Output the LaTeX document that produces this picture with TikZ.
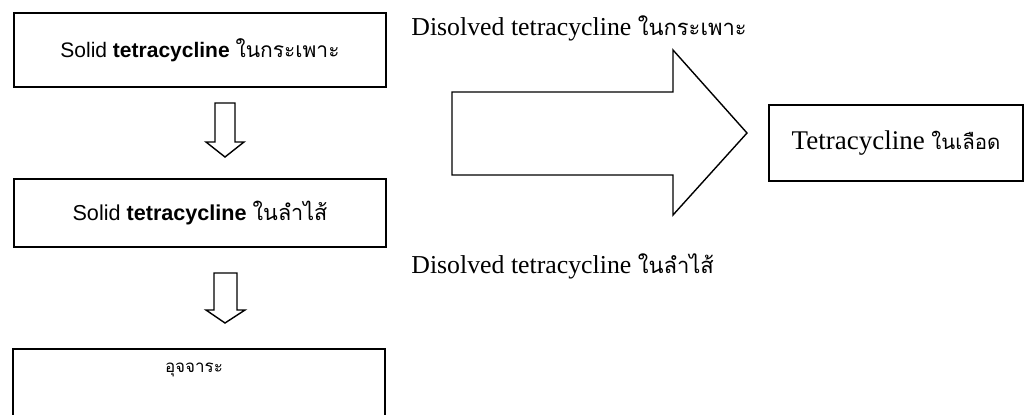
\documentclass[tikz,border=0pt]{standalone}
\usepackage{fontspec}
\setmainfont{Liberation Serif}
\setsansfont{Liberation Sans}
\newfontfamily\thaifont[Script=Thai]{Loma}
\tikzset{
  stagebox/.style = {draw, line width = 0.8pt, minimum width = 186pt, minimum height = 37pt, inner sep = 0pt},
  blockarrow/.style = {draw, line width = 0.7pt, line join = miter, fill = white},
  flowlabel/.style = {anchor = west, inner sep = 0pt, font = \fontsize{12.9}{15}\selectfont}
}
\begin{document}
\begin{tikzpicture}[x = 0.5pt, y = -0.5pt]
	\useasboundingbox (0, 0) rectangle (1024, 414);
	
	% stages
	\node[stagebox] (stomach) at (200, 50) {\fontsize{10.5}{12}\selectfont\sffamily Solid \textbf{tetracycline} {\thaifont ในกระเพาะ}};
	\node[stagebox, minimum height = 34pt] (intestine) at (200, 213) {\fontsize{10.8}{12}\selectfont\sffamily Solid \textbf{tetracycline} {\thaifont ในลำไส้}};
	\node[stagebox, minimum height = 0pt, anchor = north, text height = 12pt, text depth = 40pt] (faeces) at (199, 348) {\fontsize{8.5}{10}\selectfont\thaifont\hspace*{-5pt}อุจจาระ};
	\node[stagebox, minimum width = 127pt, minimum height = 38pt] (blood) at (896, 143) {\fontsize{13.5}{15}\selectfont Tetracycline {\fontsize{10.2}{12}\selectfont\thaifont ในเลือด}};
	
	% block arrows
	\draw[blockarrow] (215, 103) -- (235, 103) -- (235, 142) -- (244, 142) -- (225, 157) -- (206, 142) -- (215, 142) -- cycle;
	\draw[blockarrow] (214, 273) -- (237, 273) -- (237, 310) -- (245, 310) -- (225, 323) -- (206, 310) -- (214, 310) -- cycle;
	\draw[blockarrow] (452, 92) -- (673, 92) -- (673, 50) -- (747, 133) -- (673, 215) -- (673, 175) -- (452, 175) -- cycle;
	
	% dissolved forms
	\node[flowlabel] (dissolvedstomach) at (411, 28) {Disolved tetracycline {\fontsize{11}{13}\selectfont\thaifont ในกระเพาะ}};
	\node[flowlabel] (dissolvedintestine) at (411, 266) {Disolved tetracycline {\fontsize{11}{13}\selectfont\thaifont ในลำไส้}};
	
\end{tikzpicture}
\end{document}
